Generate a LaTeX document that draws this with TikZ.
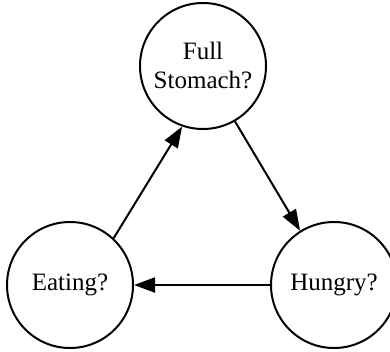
\documentclass[tikz,border=0pt]{standalone}
\usepackage{fontspec}
\setmainfont{Liberation Serif}
\usetikzlibrary{arrows.meta}
\begin{document}
\begin{tikzpicture}[x=1pt,y=1pt,
  state/.style={circle,draw,line width=2pt,minimum size=126pt,inner sep=0pt,
    align=center,font=\fontsize{25}{29}\selectfont},
  edge/.style={line width=2pt,-{Triangle[length=21pt,width=15pt]}}]
  \useasboundingbox (0,0) rectangle (390,-352);
  \node[state] (full) at (203,-66) {Full\\Stomach?};
  \node[state] (eat) at (70,-285) {Eating?};
  \node[state] (hun) at (334,-285) {Hungry?};
  \draw[edge] (eat.47) -- (full.251);
  \draw[edge] (full.300) -- (hun.122);
  \draw[edge] (hun.west) -- (eat.east);
\end{tikzpicture}
\end{document}
